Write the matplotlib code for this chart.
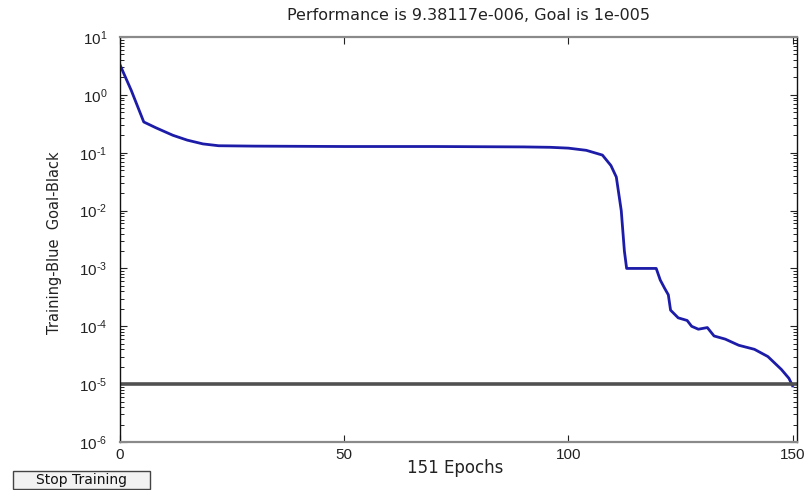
import numpy as np
import matplotlib
matplotlib.use("Agg")
import matplotlib.pyplot as plt
from matplotlib.ticker import LogLocator, FixedLocator, NullFormatter
from matplotlib.patches import Rectangle

plt.rcParams['font.family'] = ['Liberation Sans', 'DejaVu Sans']
plt.rcParams['mathtext.fontset'] = 'custom'
plt.rcParams['mathtext.rm'] = 'Liberation Sans'
plt.rcParams['mathtext.it'] = 'Liberation Sans'
plt.rcParams['axes.unicode_minus'] = False

# data
epochs = [0, 2.5, 5.3, 8, 11.8, 15, 18.5, 22, 30, 50, 70, 90, 96, 100, 104,
          107.6, 109.5, 110.7, 111.8, 112.5, 113, 119.6, 120.5, 121.5, 122.3,
          122.8, 124.5, 126.5, 127.5, 129, 131, 132.5, 135, 138, 141.5, 144.5,
          147.5, 149.2, 150]
performance = [3.3, 1.2, 0.34, 0.27, 0.20, 0.165, 0.142, 0.132, 0.13, 0.128,
               0.128, 0.126, 0.124, 0.12, 0.11, 0.091, 0.06, 0.038, 0.01,
               0.002, 0.001, 0.001, 6.3e-4, 4.5e-4, 3.5e-4, 1.9e-4, 1.4e-4,
               1.26e-4, 1.0e-4, 8.9e-5, 9.5e-5, 6.8e-5, 6.0e-5, 4.7e-5, 4.0e-5,
               3.0e-5, 1.8e-5, 1.26e-5, 9.38e-6]
goal = 1e-5
n_epochs = 151
x_ticks = [0, 50, 100, 150]
y_exponents = [1, 0, -1, -2, -3, -4, -5, -6]

wide = ['DejaVu Sans']
arial = ['Liberation Sans']

fig = plt.figure(figsize=(8.06, 4.90), dpi=100)
ax = fig.add_axes([120 / 806, 48 / 490, 677 / 806, 405 / 490])

ax.semilogy(epochs, performance, color='#1c1ca8', lw=2.0, solid_joinstyle='round')
ax.axhline(goal, color='#505050', lw=2.6)

ax.set_xlim(0, n_epochs)
ax.set_ylim(1e-6, 1e1)

ax.xaxis.set_major_locator(FixedLocator(x_ticks))
ax.set_xticklabels([str(t) for t in x_ticks], family=arial)
ax.yaxis.set_major_locator(FixedLocator([10.0 ** e for e in y_exponents]))
ylabels = []
for e in y_exponents:
    if e < 0:
        ylabels.append(r'$10^{\text{-}%d}$' % (-e))
    else:
        ylabels.append(r'$10^{%d}$' % e)
ax.set_yticklabels(ylabels)
ax.yaxis.set_minor_locator(LogLocator(base=10, subs=np.arange(2, 10), numticks=20))
ax.yaxis.set_minor_formatter(NullFormatter())

ax.tick_params(axis='both', which='major', direction='in', length=5, width=0.8,
               top=True, right=True, labelsize=11, colors='#222222')
ax.tick_params(axis='y', which='major', pad=9)
ax.tick_params(axis='x', which='major', pad=4)
ax.tick_params(axis='y', which='minor', direction='in', length=3, width=0.6,
               right=True, left=True)
ax.tick_params(axis='x', which='both', top=True)

for side in ['left', 'right']:
    ax.spines[side].set_color('#111111')
    ax.spines[side].set_linewidth(1.0)
for side in ['top', 'bottom']:
    ax.spines[side].set_color('#8a8a8a')
    ax.spines[side].set_linewidth(1.6)

fig.text(468 / 806, 1 - 15 / 490, 'Performance is 9.38117e-006, Goal is 1e-005',
         ha='center', va='center', fontsize=11.5, color='#222222', family=wide)
fig.text(455 / 806, 1 - 468 / 490, '151 Epochs', ha='center', va='center',
         fontsize=12, color='#222222', family=wide)
fig.text(55 / 806, 1 - 243 / 490, 'Training-Blue  Goal-Black', ha='center',
         va='center', rotation=90, fontsize=10.5, color='#222222', family=wide)

# Stop Training button
btn = Rectangle((13 / 806, 1 - 489 / 490), 137 / 806, 18 / 490, transform=fig.transFigure,
                facecolor='#f2f2f2', edgecolor='#444444', lw=1.0)
fig.patches.append(btn)
fig.text(81 / 806, 1 - 480 / 490, 'Stop Training', ha='center', va='center',
         fontsize=10, color='#111111', family=wide)

fig.savefig('out.png', dpi=100)
